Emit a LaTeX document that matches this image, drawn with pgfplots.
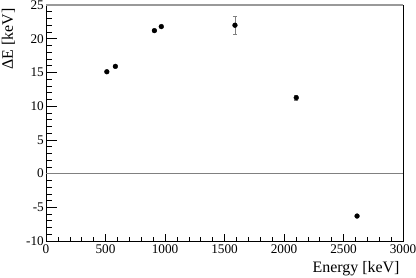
\documentclass[border=0pt]{standalone}
\usepackage{fontspec}
\setmainfont{Liberation Serif}
\usepackage{pgfplots}
\pgfplotsset{compat=1.18}
\begin{document}
\begin{tikzpicture}
\begin{axis}[
  scale only axis, width=357bp, height=236bp,
  at={(0,0)}, anchor=south west,
  xmin=0, xmax=3000, ymin=-10, ymax=25,
  clip=false,
  axis line style={black, line width=0.8pt},
  xtick={0,500,1000,1500,2000,2500,3000},
  xticklabels={0,500,1000,1500,2000,2500,3000},
  ytick={-10,-5,0,5,10,15,20,25},
  yticklabels={-10,-5,0,5,10,15,20,25},
  minor x tick num=4, minor y tick num=4,
  tick align=inside, xtick pos=bottom, ytick pos=left,
  tick style={black, line width=0.6pt},
  xtick style={/pgfplots/major tick length=7bp, /pgfplots/minor tick length=3.5bp},
  ytick style={/pgfplots/major tick length=10.5bp, /pgfplots/minor tick length=5.5bp},
  ticklabel style={font=\fontsize{13.3}{15}\selectfont},
  yticklabel style={inner xsep=2bp},
  xlabel={Energy [keV]},
  ylabel={ΔE [keV]},
  label style={font=\fontsize{16}{18}\selectfont},
  xlabel style={at={([yshift=-31.7bp]rel axis cs:1,0)}, anchor=base east},
  ylabel style={at={([xshift=-33bp]rel axis cs:0,1)}, anchor=base east},
]
\addplot[gray!80, line width=1.6pt, forget plot] coordinates {(0,25) (3000,25)};
\addplot[gray, line width=0.8pt, forget plot] coordinates {(0,0) (3000,0)};
\addplot[only marks, mark=*, mark size=2.4bp, black,
  error bars/.cd, y dir=both, y explicit,
  error bar style={gray, line width=0.8pt},
  error mark options={rotate=90, mark size=2bp, gray, line width=0.8pt}]
  coordinates {
  (511,15.1) +- (0,0.15)
  (583,15.9) +- (0,0.15)
  (911,21.2) +- (0,0.15)
  (969,21.8) +- (0,0.15)
  (1588,22.0) +- (0,1.3)
  (2103,11.25) +- (0,0.35)
  (2614,-6.3) +- (0,0.1)
};
\end{axis}
\pgfresetboundingbox
\path (-46bp,-37bp) rectangle (370bp,241bp);
\end{tikzpicture}
\end{document}
